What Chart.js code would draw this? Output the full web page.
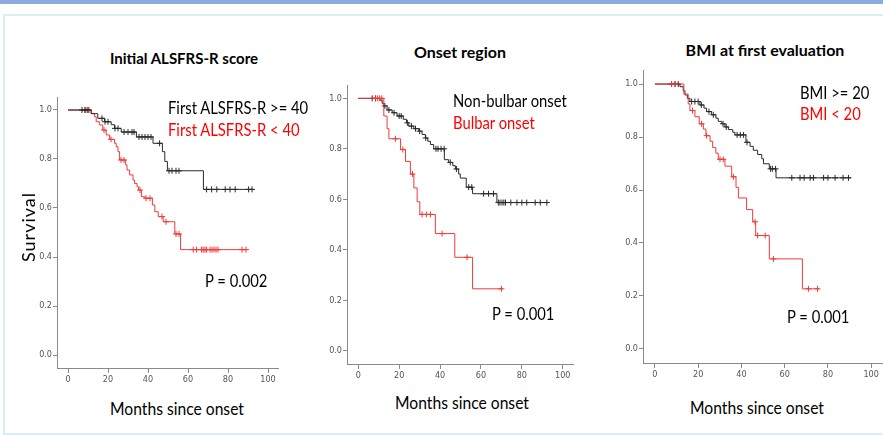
<!DOCTYPE html>
<html><head><meta charset="utf-8">
<script src="https://cdn.jsdelivr.net/npm/chart.js@4.4.0/dist/chart.umd.min.js"></script>
<style>
html,body{margin:0;padding:0;width:883px;height:435px;overflow:hidden;background:#fff;position:relative;font-family:Lato,'Open Sans',sans-serif;}
#band{position:absolute;left:0;top:0;width:883px;height:4px;background:#8faadc;}
#box{position:absolute;left:3px;top:14px;width:900px;height:417px;border:2px solid #dcedfa;}
canvas{position:absolute;}
.t{position:absolute;white-space:nowrap;line-height:1;}
.c{transform:translate(-50%,-50%);}
.l{transform:translateY(-50%) scaleX(0.87);transform-origin:left center;}
.title{font-weight:bold;font-size:16px;color:#000;}
.leg{font-size:17px;}
.ax{font-size:17px;color:#000;transform:translate(-50%,-50%) scaleX(0.92);}
</style></head><body>
<div id="band"></div><div id="box"></div>
<canvas id="c1"></canvas><canvas id="c2"></canvas><canvas id="c3"></canvas>
<div class="t c title" style="left:184px;top:58px;font-size:15px">Initial ALSFRS-R score</div>
<div class="t c title" style="left:460px;top:52px">Onset region</div>
<div class="t c title" style="left:765px;top:50px">BMI at first evaluation</div>
<div class="t" style="left:28px;top:227px;transform:translate(-50%,-50%) rotate(-90deg);font-size:18px;letter-spacing:1px;color:#000">Survival</div>
<div class="t l leg" style="left:168px;top:107px;color:#000">First ALSFRS-R &gt;= 40</div>
<div class="t l leg" style="left:168px;top:129px;color:#ff0000">First ALSFRS-R &lt; 40</div>
<div class="t l leg" style="left:453px;top:100px;color:#000">Non-bulbar onset</div>
<div class="t l leg" style="left:453px;top:122px;color:#ff0000">Bulbar onset</div>
<div class="t l leg" style="left:800px;top:92px;color:#000">BMI &gt;= 20</div>
<div class="t l leg" style="left:800px;top:113px;color:#ff0000">BMI &lt; 20</div>
<div class="t l leg" style="left:205px;top:280px;color:#000">P = 0.002</div>
<div class="t l leg" style="left:492px;top:313px;color:#000">P = 0.001</div>
<div class="t l leg" style="left:787px;top:316px;color:#000">P = 0.001</div>
<div class="t ax" style="left:177px;top:408px">Months since onset</div>
<div class="t ax" style="left:462px;top:402px">Months since onset</div>
<div class="t ax" style="left:757px;top:407px">Months since onset</div>
<script>
// ---- Panel 1: Initial ALSFRS-R score ----
const alsHiTime = [0, 11.6, 14.9, 18.3, 21.6, 23.3, 26.6, 34.2, 42.5, 47.2, 48.4, 49.7, 67.7, 92.8];
const alsHiSurv = [1, 0.985, 0.966, 0.952, 0.94, 0.925, 0.91, 0.89, 0.864, 0.83, 0.79, 0.752, 0.676, 0.676];
const alsHiCens = [7, 8.5, 10, 17, 18.5, 20, 23.5, 25, 28, 30, 32, 33, 35.5, 37, 38.5, 40, 41.5, 45.8, 50.5, 52, 54, 55.5, 69.3, 71.8, 74.4, 78.6, 81, 83.6, 90.3, 92];
const alsLoTime = [0, 11.6, 13.2, 14.1, 15.7, 17.4, 19.1, 20.8, 23.3, 24.1, 25, 25.8, 28.8, 29.5, 30.8, 32.5, 33.3, 34.5, 35.3, 36.7, 38.4, 42.2, 43.4, 45.1, 47.6, 53.4, 56.3, 89.4];
const alsLoSurv = [1, 0.986, 0.973, 0.952, 0.939, 0.918, 0.898, 0.88, 0.864, 0.85, 0.83, 0.796, 0.776, 0.755, 0.735, 0.714, 0.7, 0.687, 0.673, 0.646, 0.64, 0.612, 0.585, 0.565, 0.544, 0.494, 0.43, 0.43];
const alsLoCens = [8.5, 9.5, 10.5, 18, 21.5, 26.5, 28, 36, 39, 41, 47, 49, 54, 55.5, 62.6, 64.3, 66.8, 67.6, 68.5, 69.3, 71, 72, 73, 74, 75, 87, 89];

// ---- Panel 2: Onset region ----
const nonBulbTime = [0, 10.6, 11.7, 12.5, 14.1, 16.6, 19, 22, 23.6, 24.7, 27.2, 29.6, 31.2, 32.8, 34, 35.3, 36.9, 42.1, 44.2, 46.2, 47.5, 49.1, 49.9, 52.8, 55.9, 67.8, 92.7];
const nonBulbSurv = [1, 0.993, 0.98, 0.97, 0.954, 0.943, 0.93, 0.917, 0.903, 0.89, 0.88, 0.87, 0.857, 0.843, 0.83, 0.817, 0.8, 0.757, 0.746, 0.733, 0.72, 0.7, 0.684, 0.648, 0.622, 0.587, 0.587];
const nonBulbCens = [6.8, 8.4, 13, 15, 17.5, 20, 21, 24, 26, 28, 30, 33, 38, 39, 40.5, 42, 45, 48, 54, 55.5, 61.3, 63.7, 66.1, 68.5, 69.3, 70.3, 71.2, 72, 74.6, 77.6, 80, 82.4, 86.5, 89, 92.2];
const bulbTime = [0, 12.5, 14.1, 15, 20.7, 23.1, 25.5, 27.2, 28.8, 30.1, 37.7, 47.2, 55.9, 70.7];
const bulbSurv = [1, 0.93, 0.88, 0.84, 0.797, 0.75, 0.7, 0.645, 0.59, 0.54, 0.464, 0.37, 0.245, 0.245];
const bulbCens = [8.5, 9.5, 10.5, 11.5, 18.2, 21.8, 26.5, 31.2, 33.3, 35.3, 41, 53.2, 70];

// ---- Panel 3: BMI at first evaluation ----
const bmiHiTime = [0, 11.6, 13.1, 13.9, 15, 16.2, 20.8, 22.7, 23.9, 26.2, 28.2, 29.3, 30.9, 32.4, 34, 36, 37, 42.1, 44, 45.5, 47.5, 49.4, 50.2, 52.9, 56, 90.6];
const bmiHiSurv = [1, 0.99, 0.975, 0.959, 0.946, 0.934, 0.921, 0.909, 0.896, 0.884, 0.871, 0.859, 0.85, 0.838, 0.828, 0.818, 0.808, 0.78, 0.765, 0.75, 0.734, 0.718, 0.699, 0.68, 0.646, 0.646];
const bmiHiCens = [7.7, 9.3, 10.8, 17, 18.5, 20, 21.5, 25, 27, 31.5, 33, 38, 39.5, 41, 42.6, 53.5, 54.3, 55.8, 63.3, 67.1, 69, 71.8, 73.3, 78, 80, 83.3, 87, 89.5];
const bmiLoTime = [0, 13.4, 15.4, 16.2, 18.5, 20.5, 22.4, 23.6, 25.5, 26.7, 28.2, 29.3, 32.4, 35.5, 37.5, 38.6, 42.4, 45.2, 46.6, 52.9, 68.2, 75.9];
const bmiLoSurv = [1, 0.962, 0.925, 0.9, 0.877, 0.85, 0.83, 0.805, 0.784, 0.76, 0.739, 0.716, 0.69, 0.65, 0.61, 0.57, 0.526, 0.48, 0.428, 0.34, 0.227, 0.227];
const bmiLoCens = [7.7, 9.3, 17.4, 21.6, 23.9, 30.1, 31.6, 36.3, 46.3, 47.5, 51, 54.8, 71, 75.2];

const xTicks = [0, 20, 40, 60, 80, 100];
const yTicks = [0.0, 0.2, 0.4, 0.6, 0.8, 1.0];

const BLACK = '#2a2a2a', RED = '#f03a3a', AXIS = '#8a8a8a';

function stepPts(T, S) { return T.map((t, i) => ({x: t, y: S[i]})); }
function censPts(T, S, C) {
  return C.map(c => { let s = S[0]; for (let i = 0; i < T.length; i++) if (T[i] <= c) s = S[i]; return {x: c, y: s}; });
}

function makeChart(id, area, groups, redOnTop) {
  const YW = 30, XH = 22, PT = 8, PR = 12;
  const cv = document.getElementById(id);
  const left = area.left - YW, top = area.top - PT;
  const w = area.right - left + PR, h = area.bottom - top + XH;
  cv.width = w; cv.height = h;
  cv.style.left = left + 'px'; cv.style.top = top + 'px';
  cv.style.width = w + 'px'; cv.style.height = h + 'px';
  const ds = [];
  const order = redOnTop ? [groups[0], groups[1]] : [groups[1], groups[0]];
  order.forEach(g => {
    ds.push({data: stepPts(g.T, g.S), borderColor: g.color, borderWidth: 1, stepped: true, pointRadius: 0, fill: false, showLine: true});
    ds.push({data: censPts(g.T, g.S, g.C), borderColor: g.color, backgroundColor: g.color, borderWidth: 1, showLine: false, pointStyle: 'cross', pointRadius: 3});
  });
  const tickFont = {family: "'Liberation Sans Narrow','DejaVu Sans Condensed',sans-serif", size: 9};
  new Chart(cv, {
    type: 'line',
    data: {datasets: ds},
    options: {
      responsive: false, animation: false, devicePixelRatio: 1,
      layout: {padding: {top: PT, right: PR, left: 0, bottom: 0}},
      plugins: {legend: {display: false}, tooltip: {enabled: false}, title: {display: false}},
      scales: {
        x: {type: 'linear', min: -5.5, max: 105,
            afterFit: s => { s.height = XH; },
            afterBuildTicks: s => { s.ticks = xTicks.map(v => ({value: v})); },
            ticks: {color: '#555', font: tickFont, padding: 1, maxRotation: 0, autoSkip: false, callback: v => String(v)},
            grid: {display: true, drawOnChartArea: false, drawTicks: true, tickLength: 5, color: AXIS},
            border: {display: true, color: AXIS, width: 1}},
        y: {type: 'linear', min: -0.053, max: 1.053,
            afterFit: s => { s.width = YW; },
            afterBuildTicks: s => { s.ticks = yTicks.map(v => ({value: v})); },
            ticks: {color: '#555', font: tickFont, padding: 1, autoSkip: false, callback: v => Number(v).toFixed(1)},
            grid: {display: true, drawOnChartArea: false, drawTicks: true, tickLength: 4, color: AXIS},
            border: {display: true, color: AXIS, width: 1}}
      }
    }
  });
}

makeChart('c1', {left: 57, right: 278, top: 97, bottom: 368}, [
  {T: alsHiTime, S: alsHiSurv, C: alsHiCens, color: BLACK},
  {T: alsLoTime, S: alsLoSurv, C: alsLoCens, color: RED}], true);
makeChart('c2', {left: 347, right: 573, top: 85, bottom: 364}, [
  {T: nonBulbTime, S: nonBulbSurv, C: nonBulbCens, color: BLACK},
  {T: bulbTime, S: bulbSurv, C: bulbCens, color: RED}], false);
makeChart('c3', {left: 643, right: 882, top: 70, bottom: 363}, [
  {T: bmiHiTime, S: bmiHiSurv, C: bmiHiCens, color: BLACK},
  {T: bmiLoTime, S: bmiLoSurv, C: bmiLoCens, color: RED}], false);
</script>
</body></html>
